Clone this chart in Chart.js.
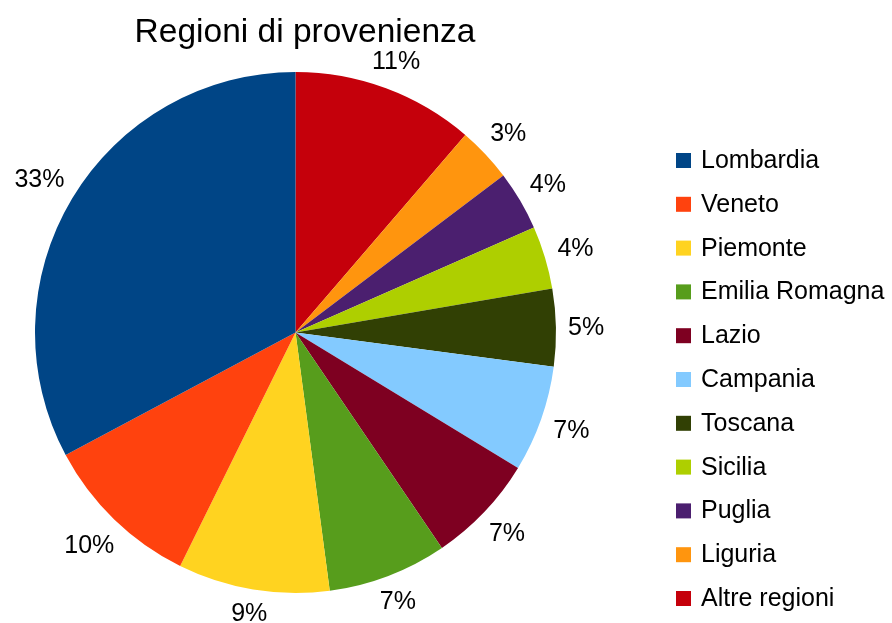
<!DOCTYPE html>
<html><head><meta charset="utf-8">
<script src="https://cdn.jsdelivr.net/npm/chart.js@4/dist/chart.umd.min.js"></script>
<style>html,body{margin:0;padding:0;background:#fff;overflow:hidden}#wrap{width:892px;height:623px;position:relative}</style>
</head><body><div id="wrap"><canvas id="c" width="892" height="623"></canvas></div>
<script>
const TITLE = 'Regioni di provenienza';
const regions = ['Lombardia','Veneto','Piemonte','Emilia Romagna','Lazio','Campania','Toscana','Sicilia','Puglia','Liguria','Altre regioni'];
const shares = [32.8, 9.9, 9.4, 7.4, 6.8, 6.6, 4.8, 3.9, 3.7, 3.4, 11.3];
const colors = ['#004586','#ff420e','#ffd320','#579d1c','#7e0021','#83caff','#314004','#aecf00','#4b1f6f','#ff950e','#c5000b'];

const FONT = '"Liberation Sans", Arial, sans-serif';

// slices run counter-clockwise from 12 o'clock in the reference; Chart.js draws clockwise
const chartLabels = regions.slice().reverse();
const chartData = shares.slice().reverse();
const chartColors = colors.slice().reverse();

const decor = {
  id: 'decor',
  afterDraw(chart) {
    const ctx = chart.ctx;
    ctx.save();
    ctx.fillStyle = '#000';
    // title
    ctx.font = '33.5px ' + FONT;
    ctx.textAlign = 'center';
    ctx.textBaseline = 'alphabetic';
    ctx.fillText(TITLE, 305, 42);

    // percentage labels outside slices, placed radially
    const meta = chart.getDatasetMeta(0);
    const vals = chart.data.datasets[0].data;
    const total = vals.reduce((a, b) => a + b, 0);
    ctx.font = '25px ' + FONT;
    ctx.textBaseline = 'middle';
    ctx.textAlign = 'center';
    meta.data.forEach((arc, i) => {
      const p = arc.getProps(['x','y','startAngle','endAngle','outerRadius'], true);
      const mid = (p.startAngle + p.endAngle) / 2;
      const ux = Math.cos(mid), uy = Math.sin(mid);
      const txt = Math.round(vals[i] / total * 100) + '%';
      const w = ctx.measureText(txt).width;
      const d = p.outerRadius + 12 + Math.abs(ux) * w / 2 + Math.abs(uy) * 9;
      ctx.fillText(txt, p.x + ux * d, p.y + uy * d + 1);
    });

    // legend (original order, top to bottom)
    ctx.textAlign = 'left';
    ctx.textBaseline = 'alphabetic';
    const n = chart.data.labels.length;
    for (let k = 0; k < n; k++) {
      const idx = n - 1 - k;
      const base = 168 + k * 43.8;
      ctx.fillStyle = chart.data.datasets[0].backgroundColor[idx];
      ctx.fillRect(676, base - 15, 15, 15);
      ctx.fillStyle = '#000';
      ctx.fillText(chart.data.labels[idx], 701, base);
    }
    ctx.restore();
  }
};

new Chart(document.getElementById('c'), {
  type: 'pie',
  data: {
    labels: chartLabels,
    datasets: [{ data: chartData, backgroundColor: chartColors, borderWidth: 0 }]
  },
  options: {
    responsive: false,
    animation: false,
    layout: { padding: { left: 35, right: 336, top: 72, bottom: 30 } },
    plugins: { legend: { display: false }, title: { display: false }, tooltip: { enabled: false } }
  },
  plugins: [decor]
});
</script></body></html>
